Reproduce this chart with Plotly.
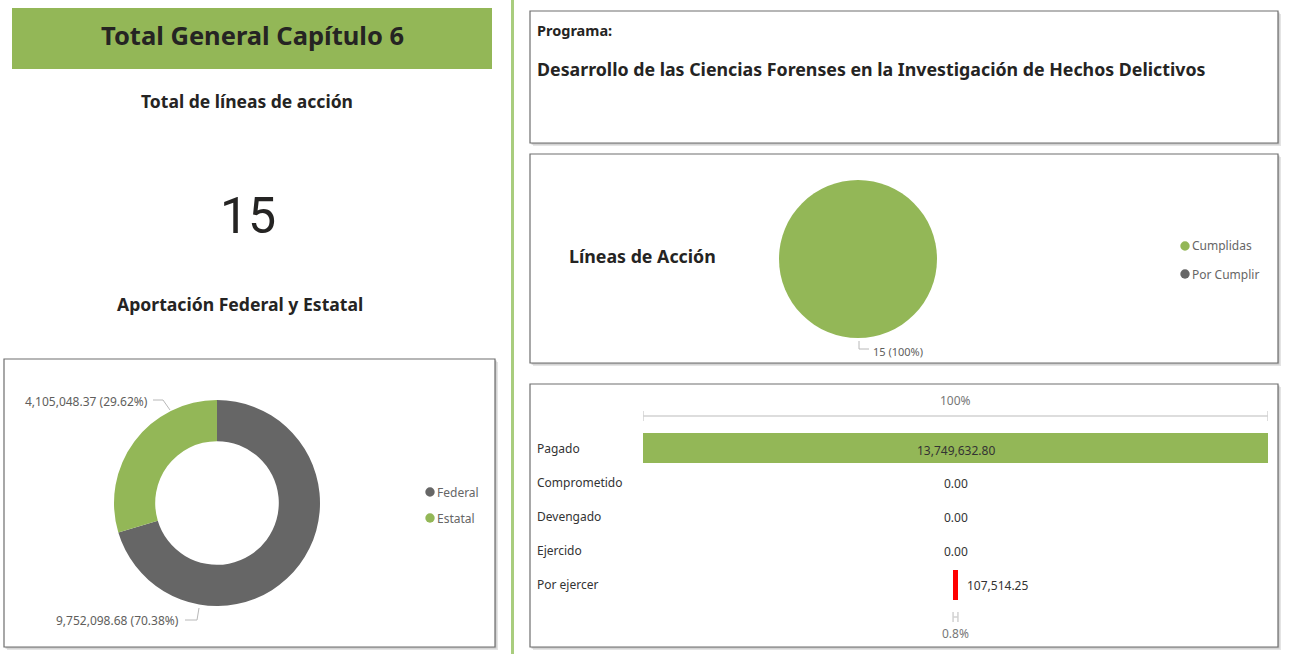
import plotly.graph_objects as go

W, H = 1293, 654

# Aportación federal y estatal
fuentes = ["Federal", "Estatal"]
aportaciones = [9752098.68, 4105048.37]
colores_fuentes = ["#666666", "#93B757"]

# Estatus de las líneas de acción
estatus = ["Cumplidas", "Por Cumplir"]
lineas = [15, 0]
colores_estatus = ["#93B757", "#666666"]

# Etapas del ejercicio del presupuesto
etapas = ["Pagado", "Comprometido", "Devengado", "Ejercido", "Por ejercer"]
montos = [13749632.80, 0.00, 0.00, 0.00, 107514.25]
colores_etapas = ["#93B757", "#93B757", "#93B757", "#93B757", "#FF0000"]

titulo = "Total General Capítulo 6"
programa = "Desarrollo de las Ciencias Forenses en la Investigación de Hechos Delictivos"
total_lineas = sum(lineas)

FONT = "Noto Sans, Open Sans, sans-serif"
DARK = "#252423"
GRAY = "#605E5C"
GREEN = "#93B757"


def px(x):
    return x / W


def py(y):
    return 1 - y / H


def fmt_money(v):
    return f"{v:,.2f}"


def fmt_pct(p):
    s = f"{p:.1f}"
    return s[:-2] if s.endswith(".0") else s


fig = go.Figure()
shapes = []
annotations = []


def rect(x0, y0, x1, y1, **kw):
    shapes.append(dict(type="rect", xref="paper", yref="paper",
                       x0=px(x0), x1=px(x1), y0=py(y1), y1=py(y0), layer="below", **kw))


def box(x0, y0, x1, y1):
    # soft drop shadow, then the white panel with a thin border
    rect(x0 + 3, y0 + 3, x1 + 3, y1 + 3, fillcolor="#e4e4e4", line=dict(width=0))
    rect(x0 + 1.5, y0 + 1.5, x1 + 1.5, y1 + 1.5, fillcolor="#c4c4c4", line=dict(width=0))
    rect(x0, y0, x1, y1, fillcolor="white", line=dict(color="#6e6e6e", width=1.2))


def text(x, y, s, size=12, color=GRAY, bold=False, xanchor="left", family=FONT, **kw):
    shift = -2 if xanchor == "left" else 0
    annotations.append(dict(xref="paper", yref="paper", x=px(x), y=py(y),
                            text=f"<b>{s}</b>" if bold else s, showarrow=False,
                            xanchor=xanchor, yanchor="middle", xshift=shift,
                            font=dict(family=family, size=size, color=color), **kw))


def polyline(points, color="#b8b8b8", width=1):
    path = "M " + " L ".join(f"{px(x)},{py(y)}" for x, y in points)
    shapes.append(dict(type="path", xref="paper", yref="paper", path=path,
                       line=dict(color=color, width=width)))


def legend(x, y0, step, names, colors):
    for i, (n, c) in enumerate(zip(names, colors)):
        cy = y0 + i * step
        shapes.append(dict(type="circle", xref="paper", yref="paper",
                           x0=px(x - 4.7), x1=px(x + 4.7), y0=py(cy + 4.7), y1=py(cy - 4.7),
                           fillcolor=c, line=dict(width=0)))
        text(x + 7, cy, n, size=12, color="#666666")


# ---- left column -------------------------------------------------------
rect(12, 8, 492, 69, fillcolor=GREEN, line=dict(width=0))
text(252, 35, titulo, size=25.5, color=DARK, bold=True, xanchor="center")
text(247, 101, "Total de líneas de acción", size=17.5, color=DARK, bold=True, xanchor="center")
text(248, 216, str(total_lineas), size=50, color=DARK, xanchor="center", family="Roboto, sans-serif")
text(240, 304, "Aportación Federal y Estatal", size=17.6, color=DARK, bold=True, xanchor="center")

box(4, 359, 495, 647)

fig.add_trace(go.Pie(
    labels=fuentes, values=aportaciones, hole=0.6, sort=False,
    direction="clockwise", rotation=0, textinfo="none", showlegend=False,
    marker=dict(colors=colores_fuentes, line=dict(width=0)),
    domain=dict(x=[px(114), px(320)], y=[py(606), py(400)]),
))

tot_ap = sum(aportaciones)
lbl_ap = {f: f"{fmt_money(v)} ({v / tot_ap * 100:.2f}%)" for f, v in zip(fuentes, aportaciones)}
text(150, 401, lbl_ap["Estatal"], size=12, xanchor="right")
polyline([(153, 400), (163, 400), (170, 410)])
text(181, 620, lbl_ap["Federal"], size=12, xanchor="right")
polyline([(185, 620), (197, 620), (199, 608)])
legend(430, 492, 26, fuentes, colores_fuentes)

# divider between columns
shapes.append(dict(type="line", xref="paper", yref="paper", x0=px(512.5), x1=px(512.5),
                   y0=0, y1=1, line=dict(color="#A9CD7E", width=3)))

# ---- right column: program -------------------------------------------
box(530, 11, 1278, 143)
text(537, 30, "Programa:", size=14.5, color=DARK, bold=True)
text(537, 69, programa, size=17.8, color=DARK, bold=True)

# ---- right column: action lines pie ----------------------------------
box(530, 154, 1278, 363)
text(569, 256, "Líneas de Acción", size=17.8, color=DARK, bold=True)
fig.add_trace(go.Pie(
    labels=estatus, values=lineas, sort=False, direction="clockwise",
    textinfo="none", showlegend=False,
    marker=dict(colors=colores_estatus, line=dict(width=0)),
    domain=dict(x=[px(779), px(937)], y=[py(338), py(180)]),
))
tot_li = sum(lineas)
text(873, 351, f"{lineas[0]} ({lineas[0] / tot_li * 100:.0f}%)", size=11)
polyline([(859, 341), (859, 349), (869, 349)])
legend(1185, 246, 28, estatus, colores_estatus)

# ---- right column: budget funnel --------------------------------------
box(530, 384, 1278, 647)
vmax = max(montos)
fig.add_trace(go.Bar(
    y=etapas, x=montos, base=[-m / 2 for m in montos], orientation="h",
    width=0.88, marker=dict(color=colores_etapas, line=dict(width=0)),
    showlegend=False, xaxis="x", yaxis="y",
))

for e, m in zip(etapas, montos):
    annotations.append(dict(xref="paper", yref="y", x=px(537), y=e, text=e,
                            showarrow=False, xanchor="left", yanchor="middle", xshift=-2,
                            font=dict(family=FONT, size=12, color="#333333")))
    small = 0 < m < 0.1 * vmax
    annotations.append(dict(xref="x", yref="y", x=m / 2 if small else 0, y=e,
                            text=fmt_money(m), showarrow=False,
                            xanchor="left" if small else "center", xshift=7 if small else 0,
                            yshift=-2 if m == vmax else -1, yanchor="middle",
                            font=dict(family=FONT, size=12, color="#333333")))

# percent-of-first brackets above the first bar and below the last bar
for val, yl, yt in [(montos[0], 416, 400), (montos[-1], 617, 633)]:
    a, b = -val / 2, val / 2
    for seg in [(a, yl, b, yl), (a, yl - 5, a, yl + 5), (b, yl - 5, b, yl + 5)]:
        shapes.append(dict(type="line", xref="x", yref="paper", x0=seg[0], x1=seg[2],
                           y0=py(seg[1]), y1=py(seg[3]), line=dict(color="#d2d2d2", width=1.5)))
    annotations.append(dict(xref="x", yref="paper", x=0, y=py(yt),
                            text=fmt_pct(val / montos[0] * 100) + "%", showarrow=False,
                            xanchor="center", yanchor="middle",
                            font=dict(family=FONT, size=12, color="#777777")))

fig.update_layout(
    width=W, height=H, margin=dict(l=0, r=0, t=0, b=0),
    paper_bgcolor="white", plot_bgcolor="rgba(0,0,0,0)",
    xaxis=dict(domain=[px(643), px(1268)], range=[-vmax / 2, vmax / 2], visible=False, fixedrange=True),
    yaxis=dict(domain=[py(602), py(431)], range=[4.5, -0.5], visible=False,
               categoryorder="array", categoryarray=etapas, fixedrange=True),
    shapes=shapes, annotations=annotations, bargap=0,
)

fig.write_html("out.html")
